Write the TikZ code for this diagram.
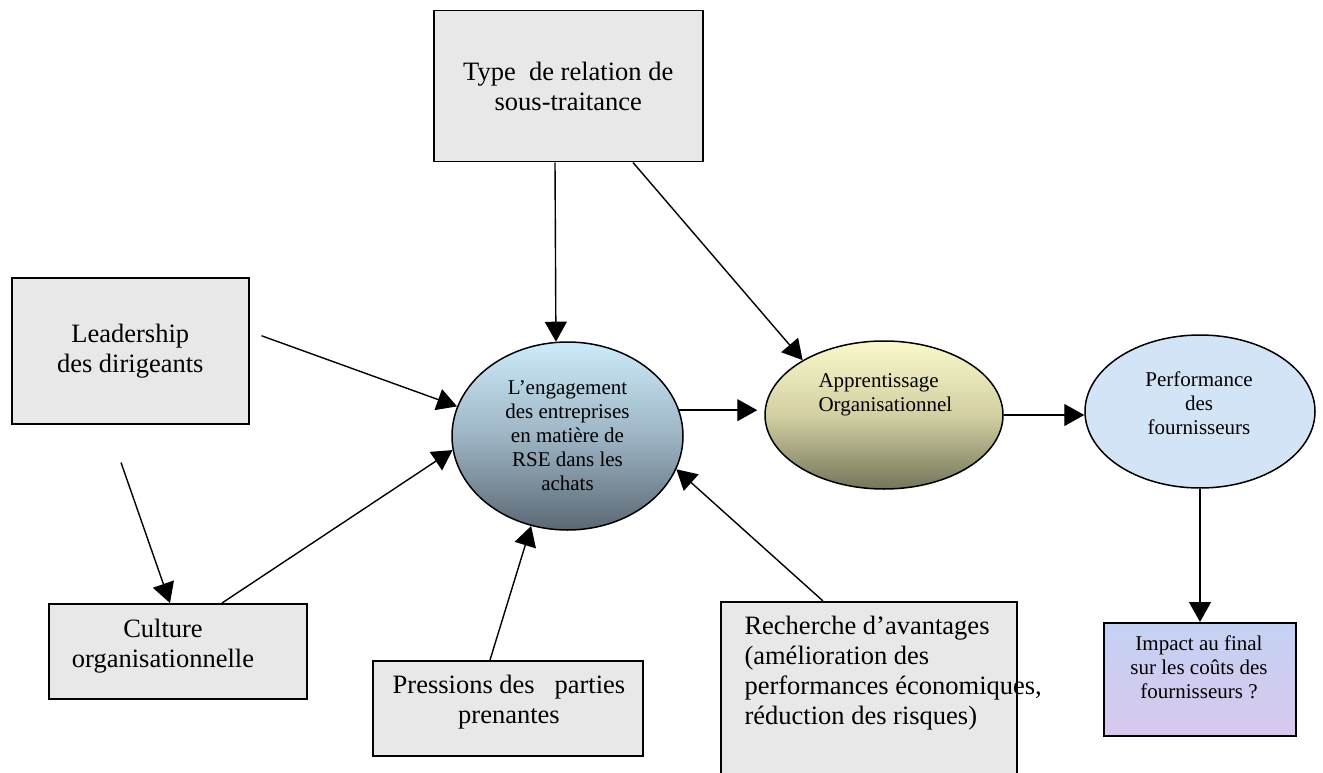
\documentclass[tikz,border=0pt]{standalone}
\usepackage{fontspec}
\setmainfont{Liberation Serif}
\usetikzlibrary{arrows.meta,shapes.geometric,calc}
\definecolor{boxgray}{HTML}{E8E8E8}
\definecolor{rsetop}{HTML}{CDEBFA}
\definecolor{rsemid}{HTML}{9DB4C4}
\definecolor{rsebot}{HTML}{5B6874}
\definecolor{apptop}{HTML}{FAF9CC}
\definecolor{appmid}{HTML}{D2D0A2}
\definecolor{appbot}{HTML}{74755A}
\definecolor{perffill}{HTML}{D4E4F7}
\definecolor{imptop}{HTML}{C4D2F4}
\definecolor{impbot}{HTML}{D8C8EC}
\begin{document}
\begin{tikzpicture}[x=1pt,y=-1pt,
  greybox/.style={draw=black, fill=boxgray, line width=1.5pt, inner sep=0pt, anchor=north west},
  bigtxt/.style={font=\fontsize{26.5}{30}\selectfont, align=center},
  smalltxt/.style={font=\fontsize{21}{24}\selectfont, align=center},
  oval/.style={ellipse, draw=black, line width=1.5pt, inner sep=0pt},
  arr/.style={-{Triangle[length=20pt,width=22pt]}, line width=1.4pt},
]
\useasboundingbox (0,0) rectangle (1323,773);

% grey boxes
\node[greybox, bigtxt, minimum width=269, minimum height=151] (type) at (433,10) {Type\ \ de relation de\\sous-traitance};
\node[greybox, bigtxt, minimum width=237, minimum height=146] (lead) at (11,277) {Leadership\\des dirigeants};
\node[greybox, minimum width=258, minimum height=95] (cult) at (48,603) {};
\node[bigtxt] at (163,646) {Culture\\organisationnelle};
\node[greybox, minimum width=270, minimum height=95] (press) at (372,660) {};
\node[bigtxt] at (509,702) {Pressions des\ \ \ parties\\prenantes};
\begin{scope}
\clip (0,0) rectangle (1323,773);
\node[greybox, minimum width=296, minimum height=200] (rech) at (720,601) {};
\end{scope}
\node[bigtxt, align=left, anchor=west] at (741,673) {Recherche d’avantages\\(amélioration des\\performances économiques,\\réduction des risques)};

% ellipses
\node[oval, minimum width=231, minimum height=188, top color=rsetop, bottom color=rsebot, middle color=rsemid, smalltxt] (rse) at (567.5,436) {L’engagement\\des entreprises\\en matière de\\RSE dans les\\achats};
\node[oval, minimum width=238, minimum height=148, top color=apptop, bottom color=appbot, middle color=appmid] (app) at (884,415) {};
\node[smalltxt, align=left, anchor=west] at (815,395) {Apprentissage\\Organisationnel};
\node[oval, minimum width=230, minimum height=153, fill=perffill] (perf) at (1200,411.5) {};
\node[smalltxt] at (1199,403) {Performance\\des\\fournisseurs};

% impact box
\node[draw=black, line width=1.5pt, inner sep=0pt, anchor=north west, minimum width=192, minimum height=113, top color=imptop, bottom color=impbot] (imp) at (1103,622) {};
\node[smalltxt] at (1199,667) {Impact au final\\sur les coûts des\\fournisseurs ?};

% connectors
\draw[arr] ($(type.south west)+(122,0)$) -- (rse.97);
\draw[arr] ($(type.south west)+(200,0)$) -- (app.146);
\draw[arr] ($(lead.east)+(12,-15)$) -- (rse.165);
\draw[arr] ($(lead.south west)+(110,38)$) -- ($(cult.north west)+(122,0)$);
\draw[arr] ($(cult.north west)+(174,0)$) -- (rse.187);
\draw[arr] ($(press.north west)+(118,0)$) -- (rse.248);
\draw[arr] ($(rech.north west)+(103,0)$) -- (rse.343);
\draw[arr, shorten >=7pt] (rse.13) -- (app.west |- rse.13);
\draw[arr] (app.east) -- (perf.west |- app.east);
\draw[arr] (perf.south) -- (perf.south |- imp.north);
\end{tikzpicture}
\end{document}
